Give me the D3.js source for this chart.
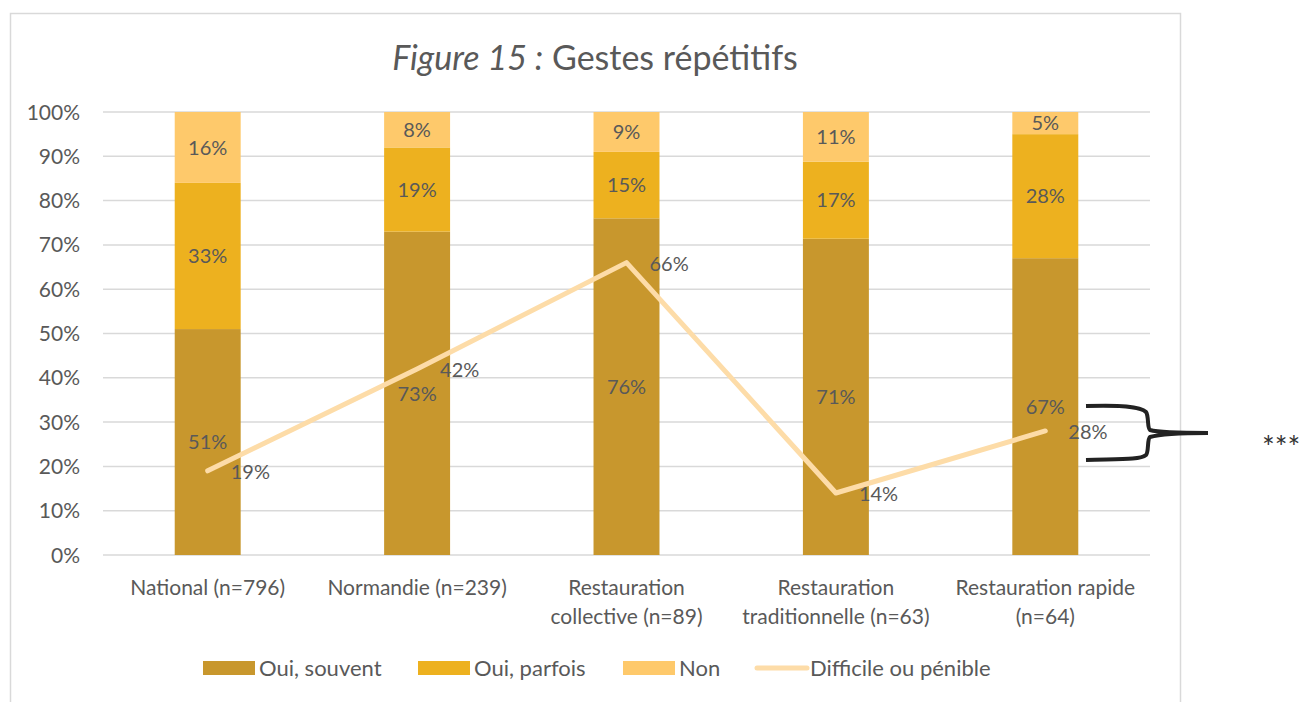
<!DOCTYPE html>
<html>
<head>
<meta charset="utf-8">
<script src="https://cdn.jsdelivr.net/npm/d3@7"></script>
<style>
  body { margin: 0; background: #fff; }
  svg { font-family: Lato, "Open Sans", sans-serif; }
</style>
</head>
<body>
<svg id="chart" width="1308" height="702"></svg>
<script>
const categories = [
  ["National (n=796)"],
  ["Normandie (n=239)"],
  ["Restauration", "collective (n=89)"],
  ["Restauration", "traditionnelle (n=63)"],
  ["Restauration rapide", "(n=64)"]
];
const ouiSouvent = [51, 73, 76, 71.4, 67];
const ouiParfois = [33, 19, 15, 17.4, 28];
const non = [16, 8, 9, 11.2, 5];
const difficile = [19, 42, 66, 14, 28];
const yTicks = [0, 10, 20, 30, 40, 50, 60, 70, 80, 90, 100];

const seriesNames = ["Oui, souvent", "Oui, parfois", "Non"];
const colors = ["#C8972D", "#EDB11F", "#FEC96B"];
const lineColor = "#FDDCA8";
const textColor = "#595959";

const svg = d3.select("#chart");
const plotLeft = 103, plotRight = 1150, plotTop = 112, plotBottom = 555;

// chart frame
svg.append("rect")
  .attr("x", 10.5).attr("y", 13.5)
  .attr("width", 1170).attr("height", 720)
  .attr("fill", "none").attr("stroke", "#d9d9d9").attr("stroke-width", 1.5);

const x = d3.scaleBand()
  .domain(d3.range(categories.length))
  .range([plotLeft, plotRight])
  .paddingInner(0.685).paddingOuter(0.3425);

const y = d3.scaleLinear().domain([0, 100]).range([plotBottom, plotTop]);

// gridlines
svg.append("g").selectAll("line")
  .data(yTicks)
  .enter()
  .append("line")
  .attr("x1", plotLeft).attr("x2", plotRight)
  .attr("y1", d => y(d)).attr("y2", d => y(d))
  .attr("stroke", "#d9d9d9").attr("stroke-width", 1.5);

// y axis labels
svg.append("g").selectAll("text")
  .data(yTicks)
  .enter()
  .append("text")
  .attr("x", 80).attr("y", d => y(d))
  .attr("dy", "0.36em")
  .attr("text-anchor", "end")
  .attr("font-size", "21px")
  .attr("fill", textColor)
  .text(d => d + "%");

// stacked bars
const rows = categories.map((c, i) => ({ i, s0: ouiSouvent[i], s1: ouiParfois[i], s2: non[i] }));
const stack = d3.stack().keys(["s0", "s1", "s2"])(rows);

stack.forEach((layer, k) => {
  const g = svg.append("g");
  g.selectAll("rect")
    .data(layer)
    .enter()
    .append("rect")
    .attr("x", d => x(d.data.i))
    .attr("width", x.bandwidth())
    .attr("y", d => y(d[1]))
    .attr("height", d => y(d[0]) - y(d[1]))
    .attr("fill", colors[k]);
  g.selectAll("text")
    .data(layer)
    .enter()
    .append("text")
    .attr("x", d => x(d.data.i) + x.bandwidth() / 2)
    .attr("y", d => (y(d[0]) + y(d[1])) / 2)
    .attr("dy", "0.36em")
    .attr("text-anchor", "middle")
    .attr("font-size", "20px")
    .attr("fill", textColor)
    .text(d => Math.round(d[1] - d[0]) + "%");
});

// line series
const cx = i => x(i) + x.bandwidth() / 2;
const line = d3.line().x((d, i) => cx(i)).y(d => y(d));
svg.append("path")
  .datum(difficile)
  .attr("d", line)
  .attr("fill", "none")
  .attr("stroke", lineColor)
  .attr("stroke-width", 5)
  .attr("stroke-linecap", "round")
  .attr("stroke-linejoin", "round");

svg.append("g").selectAll("text")
  .data(difficile)
  .enter()
  .append("text")
  .attr("x", (d, i) => cx(i) + 23)
  .attr("y", d => y(d) + 1)
  .attr("dy", "0.36em")
  .attr("font-size", "20px")
  .attr("fill", textColor)
  .text(d => d + "%");

// x axis labels
const xl = svg.append("g").selectAll("text")
  .data(categories)
  .enter()
  .append("text")
  .attr("x", (d, i) => cx(i))
  .attr("y", 595)
  .attr("text-anchor", "middle")
  .attr("font-size", "21px")
  .attr("fill", textColor);
xl.selectAll("tspan")
  .data(d => d)
  .enter()
  .append("tspan")
  .attr("x", function () { return this.parentNode.getAttribute("x"); })
  .attr("dy", (d, j) => j === 0 ? 0 : 29)
  .text(d => d);

// title
const title = svg.append("text")
  .attr("x", 595).attr("y", 70)
  .attr("text-anchor", "middle")
  .attr("font-size", "34px")
  .attr("fill", textColor);
title.append("tspan").attr("font-style", "italic").text("Figure 15 :");
title.append("tspan").text(" Gestes répétitifs");

// legend
const legendItems = [
  { name: seriesNames[0], x: 203, type: "rect", color: colors[0] },
  { name: seriesNames[1], x: 418, type: "rect", color: colors[1] },
  { name: seriesNames[2], x: 623, type: "rect", color: colors[2] },
  { name: "Difficile ou pénible", x: 754, type: "line", color: lineColor }
];
const lg = svg.append("g").selectAll("g")
  .data(legendItems)
  .enter()
  .append("g")
  .attr("transform", d => `translate(${d.x},668)`);
lg.filter(d => d.type === "rect").append("rect")
  .attr("x", 0).attr("y", -7).attr("width", 52).attr("height", 14)
  .attr("fill", d => d.color);
lg.filter(d => d.type === "line").append("line")
  .attr("x1", 3).attr("x2", 53).attr("y1", 0).attr("y2", 0)
  .attr("stroke", d => d.color).attr("stroke-width", 5).attr("stroke-linecap", "round");
lg.append("text")
  .attr("x", 56).attr("y", 0).attr("dy", "0.36em")
  .attr("font-size", "22px")
  .attr("fill", textColor)
  .text(d => d.name);

// brace annotation
svg.append("path")
  .attr("d", "M1086,406 C1120,405 1140,406 1146,412 C1149,416 1147,428 1150,430 C1160,433 1190,433 1208,433 C1190,433 1160,434 1150,437 C1147,439 1149,452 1146,455 C1140,460 1120,459 1086,460")
  .attr("fill", "none")
  .attr("stroke", "#222")
  .attr("stroke-width", 4);
svg.append("text")
  .attr("x", 1262).attr("y", 458)
  .attr("font-size", "30px")
  .attr("fill", "#333")
  .text("***");
</script>
</body>
</html>
